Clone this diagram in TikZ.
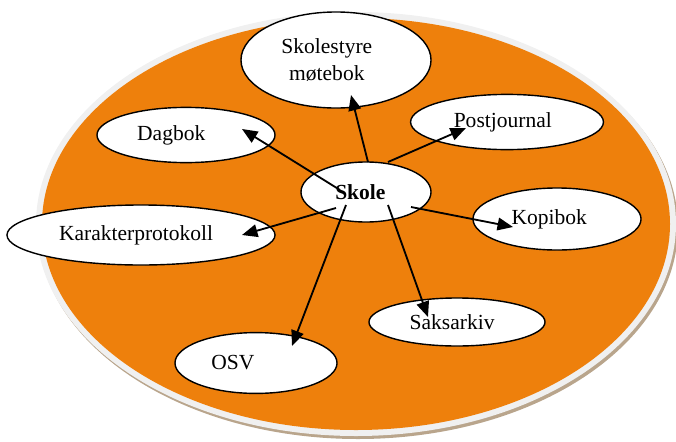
\documentclass[tikz,border=0pt]{standalone}
\usepackage{fontspec}
\setmainfont{Liberation Serif}
\usetikzlibrary{shapes.geometric,arrows.meta,calc}

\definecolor{skoleorange}{RGB}{238,128,12}
\definecolor{rimgray}{RGB}{240,240,240}
\definecolor{rimshadow}{RGB}{185,165,140}

\begin{document}
\begin{tikzpicture}[
  x=0.025cm, y=-0.025cm,
  bubble/.style={ellipse, draw, line width=1pt, fill=white, inner sep=0pt, align=center, font=\fontsize{15.3}{19}\selectfont},
  arrow/.style={-{Triangle[length=11pt, width=9pt]}, line width=1.3pt},
]
\useasboundingbox (0,0) rectangle (676,441);

% === background disc ===
\fill[rimshadow] (358,227) ellipse [x radius=320, y radius=212];
\fill[rimgray] (356,224) ellipse [x radius=320, y radius=212];
\fill[skoleorange] (356,224) ellipse [x radius=314, y radius=206];

% === nodes ===
\node[bubble, minimum width=4.75cm, minimum height=2.4cm] (styre) at (336,60) {Skolestyre\hspace*{13pt}\\møtebok\hspace*{13pt}};
\node[bubble, minimum width=4.45cm, minimum height=1.38cm] (dagbok) at (186,135) {Dagbok\hspace*{21pt}};
\node[bubble, minimum width=4.82cm, minimum height=1.38cm] (post) at (507,122) {Postjournal\hspace*{6pt}};
\node[bubble, minimum width=3.25cm, minimum height=1.5cm, font=\fontsize{15.3}{19}\selectfont\bfseries] (skole) at (366,192) {Skole\hspace*{8pt}};
\node[bubble, minimum width=6.7cm, minimum height=1.5cm] (karakter) at (141,235) {Karakterprotokoll\hspace*{7pt}};
\node[bubble, minimum width=4.2cm, minimum height=1.55cm] (kopi) at (557,219) {Kopibok\hspace*{11pt}};
\node[bubble, minimum width=4.4cm, minimum height=1.2cm] (saks) at (457,322) {Saksarkiv\hspace*{7pt}};
\node[bubble, minimum width=4.05cm, minimum height=1.52cm] (osv) at (256,363) {OSV\hspace*{33pt}};

% === arrows ===
\draw[arrow] ($(skole)+(-26,-2)$) -- ($(dagbok)+(56,-6)$);
\draw[arrow] ($(skole)+(2,-30)$) -- ($(styre)+(15,35)$);
\draw[arrow] ($(skole)+(22,-30)$) -- ($(post)+(-41,6)$);
\draw[arrow] ($(skole)+(45,15)$) -- ($(kopi)+(-44,8)$);
\draw[arrow] ($(skole)+(-30,16)$) -- ($(karakter)+(101,0)$);
\draw[arrow] ($(skole)+(-20,13)$) -- ($(osv)+(36,-17)$);
\draw[arrow] ($(skole)+(22,13)$) -- ($(saks)+(-29,-5)$);

\end{tikzpicture}
\end{document}
